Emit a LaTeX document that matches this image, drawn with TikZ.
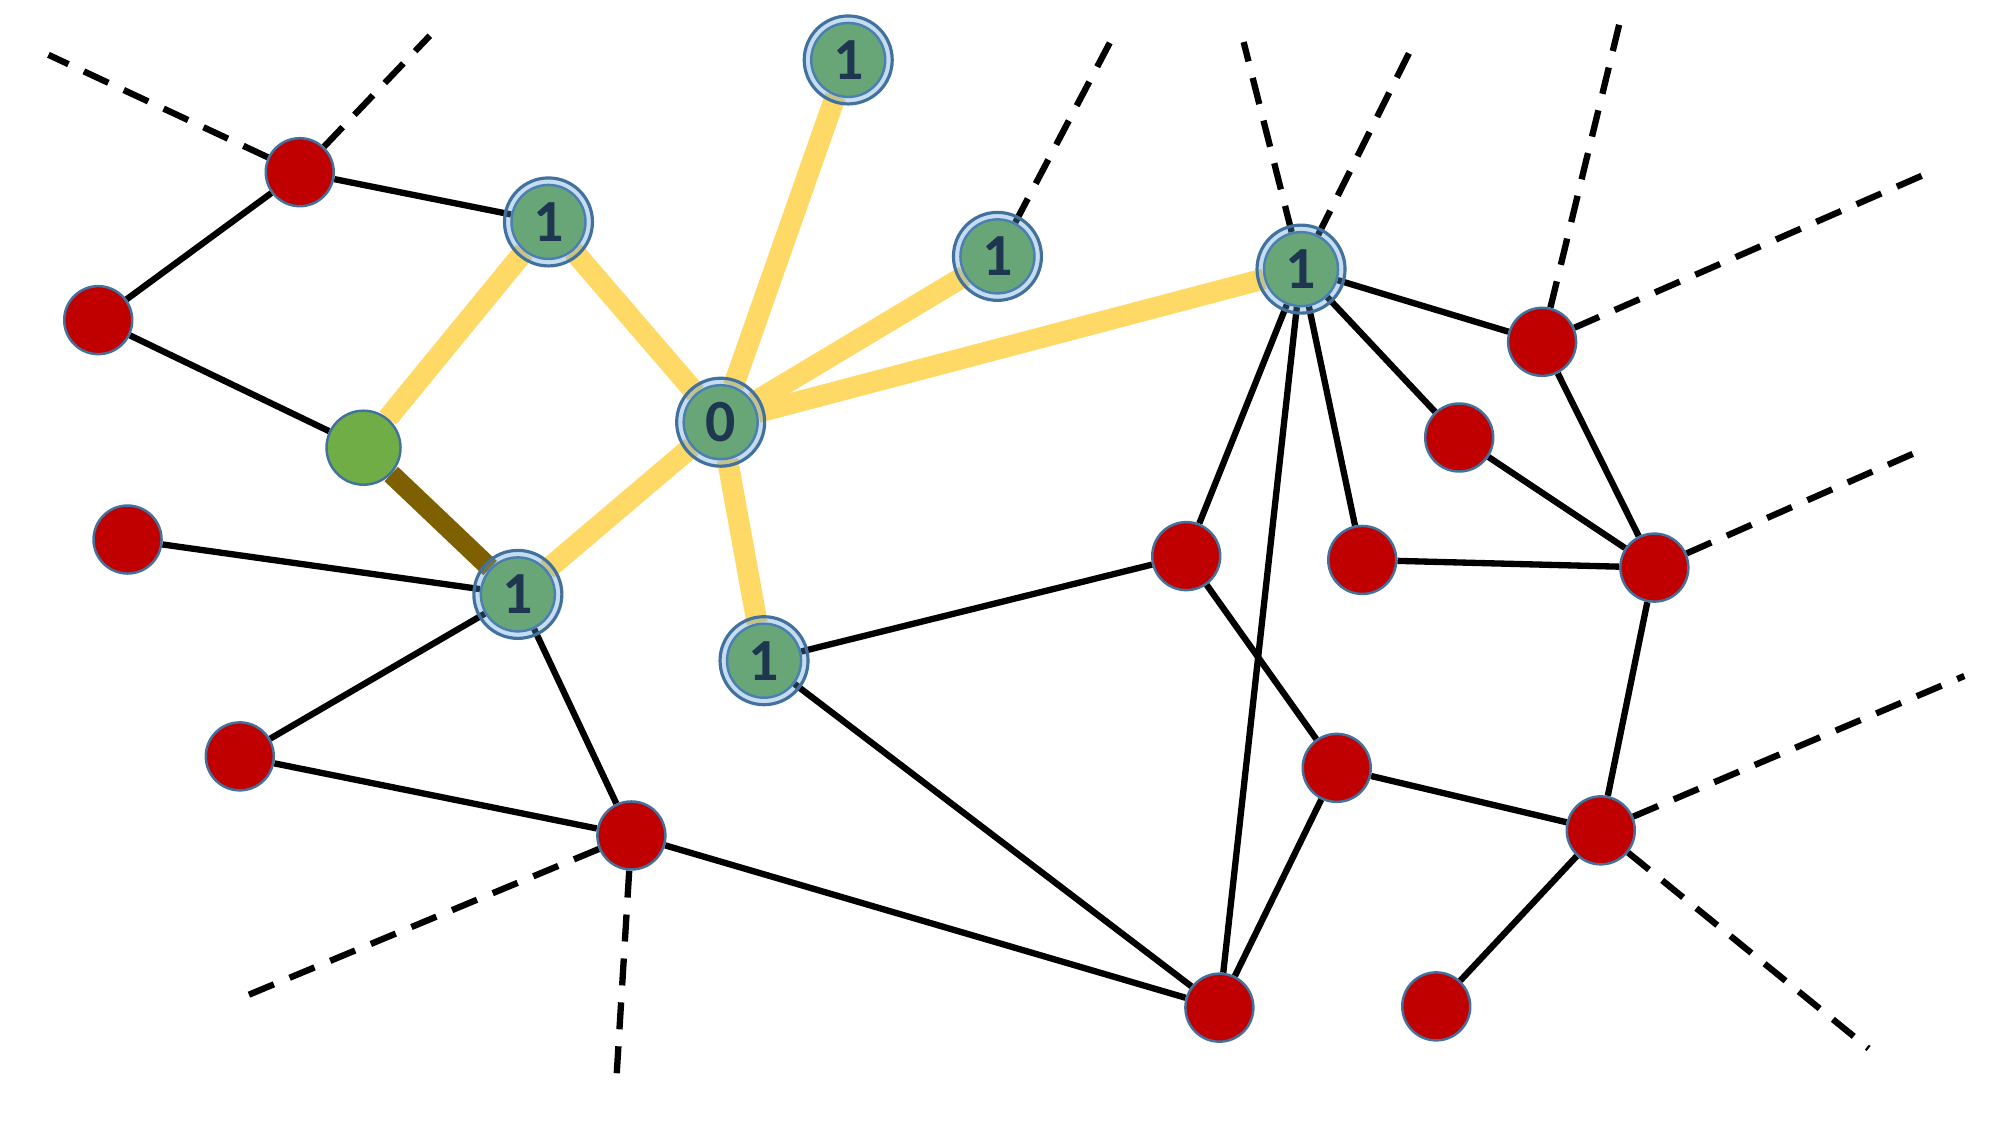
\documentclass[tikz,border=0pt]{standalone}
\usepackage{fontspec}
\setmainfont{Carlito}
\usetikzlibrary{backgrounds}
\definecolor{hostred}{HTML}{C00000}
\definecolor{peergreen}{HTML}{70AD47}
\definecolor{rimblue}{HTML}{41719C}
\definecolor{haloblue}{HTML}{5B9BD5}
\definecolor{labelnavy}{HTML}{1F3650}
\definecolor{treeyellow}{HTML}{FFD966}
\definecolor{cutbrown}{HTML}{7F6000}

\begin{document}
\begin{tikzpicture}[
        x=0.12755mm, y=-0.12755mm,
        % Estilos de enlaces
        link/.style={line width=1.8pt, black},
        open link/.style={link, dash pattern=on 0.27cm off 0.17cm},
        tree link/.style={line width=6pt, treeyellow},
        cut link/.style={line width=5.6pt, cutbrown},
        % Estilos de nodos
        host/.style={circle, draw=rimblue, line width=0.7pt, fill=hostred, minimum size=0.68cm, inner sep=0pt},
        peer/.style={host, fill=peergreen, minimum size=0.74cm},
        halo/.style={circle, draw=rimblue, line width=0.9pt, fill=haloblue, fill opacity=0.35, text opacity=1,
            minimum size=0.88cm, inner sep=0pt, text=labelnavy, font=\bfseries\fontsize{17}{17}\selectfont},
    ]
    \useasboundingbox (0,0) rectangle (1568,882);

    % 1. Nodos rojos
    \foreach \n/\x/\y in {r1/235/135, r2/77/251, r3/100/423, r4/188/593, r5/495/655,
        r6/930/436, r7/1068/439, r8/1144/343, r9/1209/268, r10/1297/445,
        r11/1048/602, r12/1255/651, r13/956/790, r14/1126/789}
        \node[host] (\n) at (\x,\y) {};

    % 2. Nodos verdes
    \node[peer] (g) at (285,351) {};
    \foreach \n/\x/\y in {a/430/174, b/665/47, c/782/201, o/565/331, d/1020/211, e/406/466, f/599/518}
        \node[peer] (\n) at (\x,\y) {};

    % Extremos libres de los enlaces discontinuos
    \coordinate (x1) at (38,43);
    \coordinate (x2) at (337,28);
    \coordinate (x3) at (873,28);
    \coordinate (x4) at (975,33);
    \coordinate (x5) at (1108,35);
    \coordinate (x6) at (1270,17);
    \coordinate (x7) at (1513,135);
    \coordinate (x8) at (1506,353);
    \coordinate (x9) at (1540,530);
    \coordinate (x10) at (1465,822);
    \coordinate (x11) at (190,782);
    \coordinate (x12) at (483,850);

    % 3. Enlaces (detras de los nodos)
    \begin{pgfonlayer}{background}
        \foreach \u/\v in {r1/a, r1/r2, r2/g, r3/e, e/r4, r4/r5, e/r5, r5/r13, f/r6, f/r13,
            r6/d, r6/r11, d/r13, d/r7, d/r8, d/r9, r8/r10, r7/r10, r9/r10, r10/r12,
            r11/r12, r11/r13, r12/r14}
            \draw[link] (\u) -- (\v);
        \foreach \u/\v in {r1/x1, r1/x2, c/x3, d/x4, d/x5, r9/x6, r9/x7, r10/x8,
            r12/x9, r12/x10, r5/x11, r5/x12}
            \draw[open link] (\u) -- (\v);
        \foreach \u/\v in {g/a, a/o, o/b, o/c, o/d, o/e, o/f}
            \draw[tree link] (\u) -- (\v);
        \draw[cut link] (g) -- (e);
    \end{pgfonlayer}

    % 4. Halos con su distancia
    \node[halo] (ha) at (a) {1};
    \node[halo] (hb) at (b) {1};
    \node[halo] (hc) at (c) {1};
    \node[halo] (ho) at (o) {0};
    \node[halo] (hd) at (d) {1};
    \node[halo] (he) at (e) {1};
    \node[halo] (hf) at (f) {1};
\end{tikzpicture}
\end{document}
